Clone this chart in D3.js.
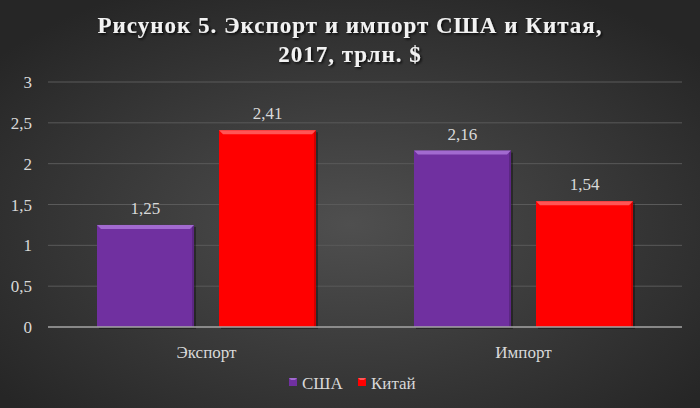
<!DOCTYPE html>
<html lang="ru">
<head>
<meta charset="utf-8">
<title>Экспорт и импорт США и Китая</title>
<script src="https://d3js.org/d3.v7.min.js"></script>
<style>
  body { margin: 0; background: #333; }
  svg text { font-family: "Liberation Serif", "Times New Roman", Tinos, "DejaVu Serif", serif; }
  .tick-label { fill: #d9d9d9; font-size: 17px; }
  .val-label { fill: #d9d9d9; font-size: 17px; }
  .title { fill: #f2f2f2; font-size: 23px; font-weight: bold; letter-spacing: 1px; }
</style>
</head>
<body>
<script>
// data
var categories = ["Экспорт", "Импорт"];
var seriesNames = ["США", "Китай"];
var usa = [1.25, 2.16];
var china = [2.41, 1.54];
var yTicks = [0, 0.5, 1, 1.5, 2, 2.5, 3];
var colors = ["#7030a0", "#ff0000"];
var bevel = ["#a26ad0", "#ff5555"];

var width = 700, height = 408;
var margin = { left: 48, right: 18, top: 82, bottom: 81 };
var serif = '"Liberation Serif", "Times New Roman", Tinos, "DejaVu Serif", serif';

var svg = d3.select("body").append("svg")
    .attr("width", width)
    .attr("height", height)
    .style("display", "block");

var defs = svg.append("defs");
var bg = defs.append("radialGradient")
    .attr("id", "bg")
    .attr("cx", "50%").attr("cy", "55%").attr("r", "65%");
bg.append("stop").attr("offset", "0%").attr("stop-color", "#4f4f4f");
bg.append("stop").attr("offset", "100%").attr("stop-color", "#262626");

var shadow = defs.append("filter").attr("id", "shadow")
    .attr("x", "-10%").attr("y", "-10%").attr("width", "130%").attr("height", "130%");
shadow.append("feDropShadow")
    .attr("dx", 1.5).attr("dy", 1.5).attr("stdDeviation", 1)
    .attr("flood-color", "#000").attr("flood-opacity", 0.8);

svg.append("rect")
    .attr("width", width).attr("height", height)
    .attr("fill", "url(#bg)");

// title
var title = svg.append("text")
    .attr("class", "title")
    .attr("font-family", serif)
    .attr("text-anchor", "middle")
    .attr("filter", "url(#shadow)");
title.append("tspan").attr("x", width / 2).attr("y", 33)
    .text("Рисунок 5. Экспорт и импорт США и Китая,");
title.append("tspan").attr("x", width / 2).attr("y", 62)
    .text("2017, трлн. $");

var x0 = d3.scaleBand()
    .domain(categories)
    .range([margin.left, width - margin.right])
    .paddingInner(0)
    .paddingOuter(0);

var groupPad = 49;
var x1 = d3.scaleBand()
    .domain(seriesNames)
    .range([groupPad, x0.bandwidth() - groupPad])
    .paddingInner(0.205);

var y = d3.scaleLinear()
    .domain([0, 3])
    .range([height - margin.bottom, margin.top]);

var fmt = function(v) { return String(v).replace(".", ","); };

// gridlines
svg.append("g").selectAll("line")
    .data(yTicks.filter(function(d) { return d > 0; }))
    .join("line")
    .attr("x1", margin.left).attr("x2", width - margin.right)
    .attr("y1", function(d) { return y(d); })
    .attr("y2", function(d) { return y(d); })
    .attr("stroke", "#5a5a5a")
    .attr("stroke-width", 1);

// y labels
svg.append("g").selectAll("text")
    .data(yTicks)
    .join("text")
    .attr("class", "tick-label")
    .attr("font-family", serif)
    .attr("x", 32)
    .attr("y", function(d) { return y(d) + 6; })
    .attr("text-anchor", "end")
    .text(fmt);

// bars
var rows = categories.map(function(c, i) {
  return { cat: c, values: [usa[i], china[i]] };
});

var groups = svg.append("g").selectAll("g")
    .data(rows)
    .join("g")
    .attr("transform", function(d) { return "translate(" + x0(d.cat) + ",0)"; });

var bars = groups.selectAll("g.bar")
    .data(function(d) {
      return d.values.map(function(v, j) { return { s: seriesNames[j], v: v, j: j }; });
    })
    .join("g")
    .attr("class", "bar");

bars.append("rect")
    .attr("x", function(d) { return x1(d.s) + 2; })
    .attr("y", function(d) { return y(d.v) + 2; })
    .attr("width", x1.bandwidth())
    .attr("height", function(d) { return y(0) - y(d.v); })
    .attr("fill", "rgba(0,0,0,0.35)");

bars.append("rect")
    .attr("x", function(d) { return x1(d.s); })
    .attr("y", function(d) { return y(d.v); })
    .attr("width", x1.bandwidth())
    .attr("height", function(d) { return y(0) - y(d.v); })
    .attr("fill", function(d) { return colors[d.j]; });

// bevel on top edge
bars.append("path")
    .attr("d", function(d) {
      var xa = x1(d.s), xb = xa + x1.bandwidth(), yt = y(d.v), b = 4;
      return "M" + xa + "," + yt + "L" + xb + "," + yt + "L" + (xb - b) + "," + (yt + b) +
             "L" + (xa + b) + "," + (yt + b) + "Z";
    })
    .attr("fill", function(d) { return bevel[d.j]; });

bars.append("path")
    .attr("d", function(d) {
      var xa = x1(d.s), xb = xa + x1.bandwidth(), yt = y(d.v), yb = y(0), b = 2;
      return "M" + xb + "," + yt + "L" + xb + "," + yb + "L" + (xb - b) + "," + yb +
             "L" + (xb - b) + "," + (yt + b) + "Z";
    })
    .attr("fill", "rgba(0,0,0,0.18)");

bars.append("text")
    .attr("class", "val-label")
    .attr("font-family", serif)
    .attr("text-anchor", "middle")
    .attr("x", function(d) { return x1(d.s) + x1.bandwidth() / 2; })
    .attr("y", function(d) { return y(d.v) - 11; })
    .text(function(d) { return fmt(d.v); });

// baseline
svg.append("line")
    .attr("x1", margin.left).attr("x2", width - margin.right)
    .attr("y1", y(0)).attr("y2", y(0))
    .attr("stroke", "#a6a6a6").attr("stroke-width", 1.5);

// category labels
svg.append("g").selectAll("text")
    .data(categories)
    .join("text")
    .attr("class", "tick-label")
    .attr("font-family", serif)
    .attr("text-anchor", "middle")
    .attr("x", function(d) { return x0(d) + x0.bandwidth() / 2; })
    .attr("y", 358)
    .text(function(d) { return d; });

// legend
var legendX = [289, 358];
var leg = svg.append("g").selectAll("g")
    .data(seriesNames)
    .join("g")
    .attr("transform", function(d, i) { return "translate(" + legendX[i] + ",378)"; });

leg.append("rect")
    .attr("width", 8).attr("height", 8)
    .attr("fill", function(d, i) { return colors[i]; });
leg.append("path")
    .attr("d", "M0,0L8,0L6,2L2,2Z")
    .attr("fill", function(d, i) { return bevel[i]; });
leg.append("text")
    .attr("class", "tick-label")
    .attr("font-family", serif)
    .attr("x", 13).attr("y", 11)
    .text(function(d) { return d; });
</script>
</body>
</html>
